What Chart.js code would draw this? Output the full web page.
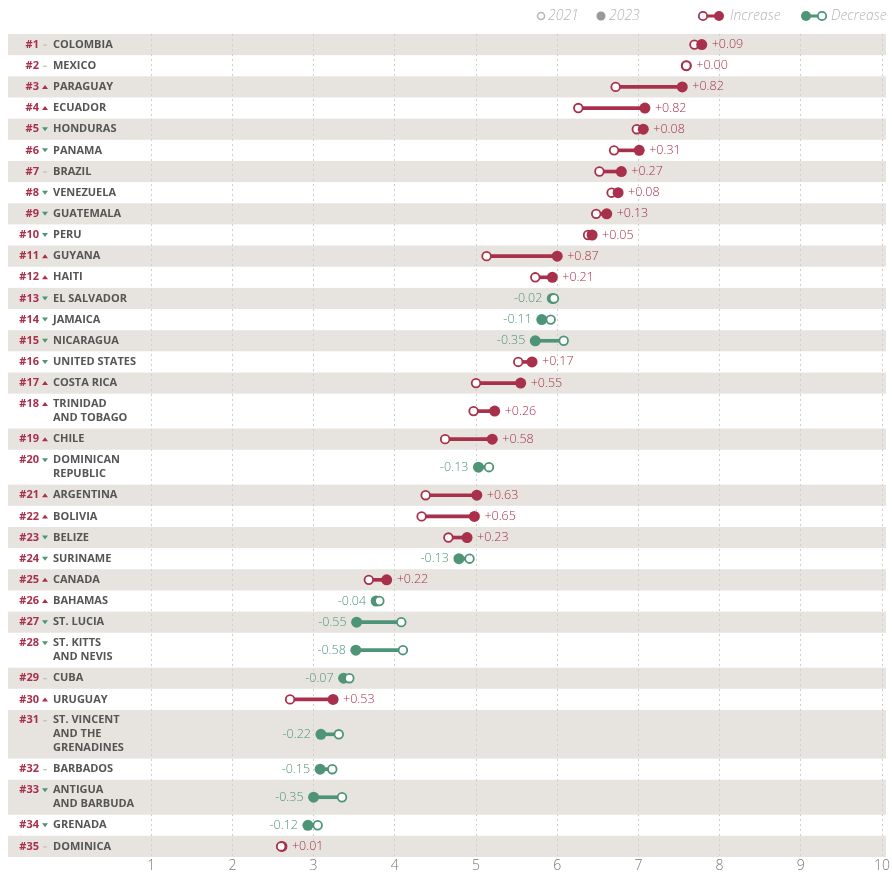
<!DOCTYPE html>
<html>
<head>
<meta charset="utf-8">
<script src="https://cdn.jsdelivr.net/npm/chart.js@4.4.1/dist/chart.umd.min.js"></script>
<style>
  html, body { margin: 0; padding: 0; background: #fff; }
  canvas { display: block; }
</style>
</head>
<body>
<canvas id="chart" width="892" height="874"></canvas>
<script>
const countries = ['COLOMBIA', 'MEXICO', 'PARAGUAY', 'ECUADOR', 'HONDURAS', 'PANAMA', 'BRAZIL', 'VENEZUELA',
  'GUATEMALA', 'PERU', 'GUYANA', 'HAITI', 'EL SALVADOR', 'JAMAICA', 'NICARAGUA', 'UNITED STATES', 'COSTA RICA',
  'TRINIDAD\nAND TOBAGO', 'CHILE', 'DOMINICAN\nREPUBLIC', 'ARGENTINA', 'BOLIVIA', 'BELIZE', 'SURINAME', 'CANADA',
  'BAHAMAS', 'ST. LUCIA', 'ST. KITTS\nAND NEVIS', 'CUBA', 'URUGUAY', 'ST. VINCENT\nAND THE\nGRENADINES',
  'BARBADOS', 'ANTIGUA\nAND BARBUDA', 'GRENADA', 'DOMINICA'];
// rank movement: 1 up, -1 down, 0 same
const rankMove = [0, 0, 1, 1, -1, -1, 0, -1, -1, -1, 1, 1, -1, -1, -1, -1, 1, 1, 1, -1, 1, 1, -1, -1, 1, 1, -1, -1, 0, 1, 0, 0, -1, -1, 0];
const score2021 = [7.69, 7.59, 6.72, 6.26, 6.98, 6.70, 6.52, 6.67, 6.48, 6.38, 5.13, 5.73, 5.96, 5.92, 6.08, 5.52,
  5.00, 4.97, 4.62, 5.16, 4.38, 4.33, 4.66, 4.92, 3.68, 3.81, 4.08, 4.10, 3.44, 2.71, 3.31, 3.23, 3.35, 3.05, 2.60];
const score2023 = [7.78, 7.59, 7.54, 7.08, 7.06, 7.01, 6.79, 6.75, 6.61, 6.43, 6.00, 5.94, 5.94, 5.81, 5.73, 5.69,
  5.55, 5.23, 5.20, 5.03, 5.01, 4.98, 4.89, 4.79, 3.90, 3.77, 3.53, 3.52, 3.37, 3.24, 3.09, 3.08, 3.00, 2.93, 2.61];
const xTicks = [1, 2, 3, 4, 5, 6, 7, 8, 9, 10];

const RED = '#a8304a';
const GREEN = '#4e9477';
const BAND = '#e7e4df';

// row layout: taller rows for wrapped names
const lineCount = countries.map(c => c.split('\n').length);
const rowH = lineCount.map(n => 1 + 0.65 * (n - 1));
const rowStart = [];
let acc = 0;
rowH.forEach(h => { rowStart.push(acc); acc += h; });
const totalRows = acc;
const rowMid = rowStart.map((s, i) => s + rowH[i] / 2);

const change = score2023.map((v, i) => Math.round((v - score2021[i]) * 100) / 100);
const lineColor = change.map(d => d >= 0 ? RED : GREEN);

const rowsPlugin = {
  id: 'rows',
  beforeDraw(chart) {
    const ctx = chart.ctx, y = chart.scales.y;
    ctx.save();
    ctx.fillStyle = BAND;
    countries.forEach((c, i) => {
      if (i % 2 !== 0) return;
      const t = y.getPixelForValue(rowStart[i]);
      const b = y.getPixelForValue(rowStart[i] + rowH[i]);
      ctx.fillRect(8, t, 878, b - t);
    });
    ctx.restore();
  },
  afterDraw(chart) {
    const ctx = chart.ctx, x = chart.scales.x, y = chart.scales.y;
    ctx.save();
    ctx.textBaseline = 'middle';
    countries.forEach((c, i) => {
      const lines = c.split('\n');
      const cy = y.getPixelForValue(rowMid[i]);
      const top = cy - (lines.length - 1) * 7;
      ctx.font = 'bold 11px "Open Sans"';
      ctx.fillStyle = RED;
      ctx.textAlign = 'right';
      ctx.fillText('#' + (i + 1), 39, top);
      if (rankMove[i] === 1) {
        ctx.fillStyle = RED;
        ctx.beginPath(); ctx.moveTo(42, top + 2); ctx.lineTo(48, top + 2); ctx.lineTo(45, top - 2); ctx.fill();
      } else if (rankMove[i] === -1) {
        ctx.fillStyle = GREEN;
        ctx.beginPath(); ctx.moveTo(42, top - 2); ctx.lineTo(48, top - 2); ctx.lineTo(45, top + 2); ctx.fill();
      } else {
        ctx.fillStyle = '#b8b8b8';
        ctx.fillRect(43, top, 4, 1);
      }
      ctx.fillStyle = '#555';
      ctx.textAlign = 'left';
      lines.forEach((l, k) => ctx.fillText(l, 53, top + k * 14));

      // change label
      const d = change[i];
      const txt = (d >= 0 ? '+' : '') + d.toFixed(2);
      ctx.font = '300 12.5px "Open Sans"';
      if (d >= 0) {
        ctx.fillStyle = RED;
        ctx.textAlign = 'left';
        ctx.fillText(txt, x.getPixelForValue(Math.max(score2021[i], score2023[i])) + 10, cy);
      } else {
        ctx.fillStyle = GREEN;
        ctx.textAlign = 'right';
        ctx.fillText(txt, x.getPixelForValue(score2023[i]) - 10, cy);
      }
    });

    // legend
    const ly = 16;
    ctx.font = 'italic 300 14px "Open Sans"';
    ctx.textAlign = 'left';
    ctx.lineWidth = 1.5;
    ctx.strokeStyle = '#b5b5b5';
    ctx.fillStyle = '#fff';
    ctx.beginPath(); ctx.arc(541, ly, 3.5, 0, Math.PI * 2); ctx.fill(); ctx.stroke();
    ctx.fillStyle = '#b5b5b5';
    ctx.fillText('2021', 548, ly);
    ctx.fillStyle = '#999';
    ctx.beginPath(); ctx.arc(601, ly, 4.5, 0, Math.PI * 2); ctx.fill();
    ctx.fillStyle = '#b5b5b5';
    ctx.fillText('2023', 609, ly);
    const pair = (x0, col, filledRight) => {
      ctx.strokeStyle = col; ctx.fillStyle = col; ctx.lineWidth = 3;
      ctx.beginPath(); ctx.moveTo(x0, ly); ctx.lineTo(x0 + 16, ly); ctx.stroke();
      ctx.lineWidth = 1.8;
      const hx = filledRight ? x0 : x0 + 16, fx = filledRight ? x0 + 16 : x0;
      ctx.beginPath(); ctx.arc(fx, ly, 5, 0, Math.PI * 2); ctx.fill();
      ctx.fillStyle = '#fff';
      ctx.beginPath(); ctx.arc(hx, ly, 4.2, 0, Math.PI * 2); ctx.fill(); ctx.stroke();
    };
    pair(703, RED, true);
    ctx.fillStyle = '#b5b5b5';
    ctx.fillText('Increase', 730, ly);
    pair(806, GREEN, false);
    ctx.fillStyle = '#b5b5b5';
    ctx.fillText('Decrease', 831, ly);
    ctx.restore();
  }
};

const pts = arr => arr.map((v, i) => ({ x: v, y: rowMid[i] }));

new Chart(document.getElementById('chart'), {
  type: 'scatter',
  data: {
    datasets: [
      {
        type: 'bar',
        indexAxis: 'y',
        data: countries.map((c, i) => ({ y: rowMid[i], x: [score2021[i], score2023[i]] })),
        backgroundColor: lineColor,
        barThickness: 3,
        borderWidth: 0,
        borderSkipped: false,
        order: 3
      },
      {
        label: '2021',
        data: pts(score2021),
        pointRadius: change.map(d => d > 0.01 ? 4.3 : 0),
        pointBackgroundColor: '#fff',
        pointBorderColor: lineColor,
        pointBorderWidth: 1.8,
        order: 2
      },
      {
        label: '2023',
        data: pts(score2023),
        pointRadius: 5.5,
        pointBackgroundColor: lineColor,
        pointBorderWidth: 0,
        order: 1
      },
      {
        label: '2021 top',
        data: pts(score2021),
        pointRadius: change.map(d => d > 0.01 ? 0 : 4.3),
        pointBackgroundColor: '#fff',
        pointBorderColor: lineColor,
        pointBorderWidth: 1.8,
        order: 0
      }
    ]
  },
  options: {
    responsive: false,
    animation: false,
    events: [],
    layout: { padding: { left: 70, right: 10, top: 34, bottom: 0 } },
    plugins: { legend: { display: false }, tooltip: { enabled: false } },
    scales: {
      x: {
        type: 'linear',
        min: 0,
        max: 10,
        afterBuildTicks: axis => { axis.ticks = xTicks.map(v => ({ value: v })); },
        afterFit: axis => { axis.height = 17; },
        border: { display: false, dash: [2, 3] },
        grid: { color: '#cfcfcf', lineWidth: 1, drawTicks: false },
        ticks: { color: '#777', padding: 1, font: { family: 'Open Sans', size: 14, weight: '300' } }
      },
      y: {
        type: 'linear',
        min: 0,
        max: totalRows,
        reverse: true,
        offset: false,
        display: false
      }
    }
  },
  plugins: [rowsPlugin]
});
</script>
</body>
</html>
